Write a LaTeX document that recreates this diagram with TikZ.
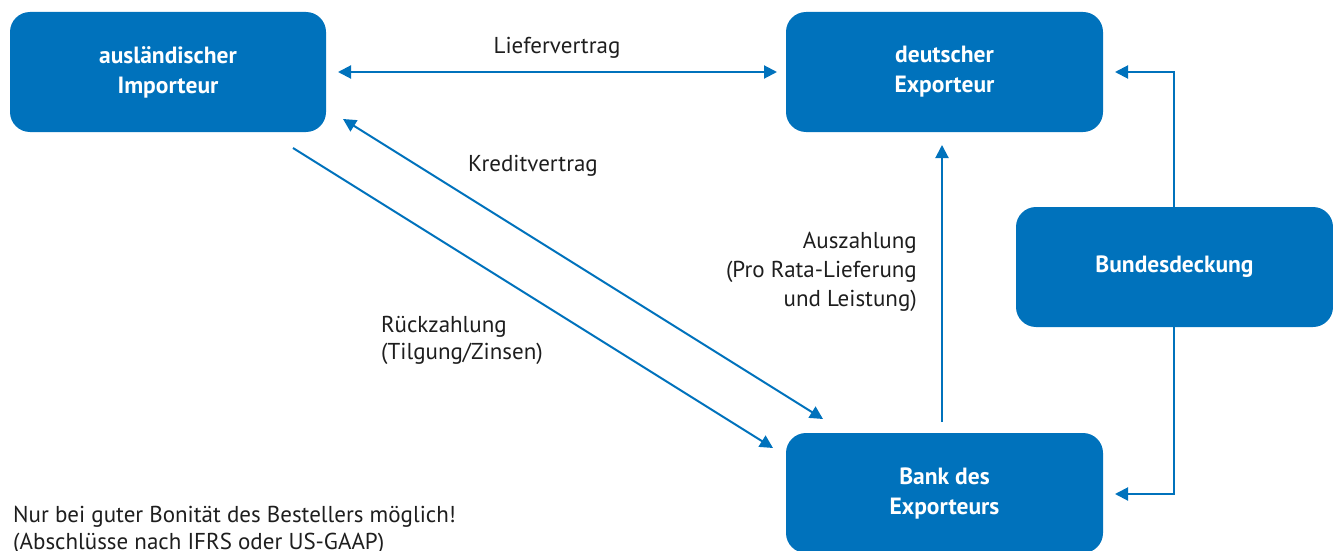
\documentclass[tikz,border=0pt]{standalone}
\usepackage{fontspec}
\setmainfont{PT Sans}
\usetikzlibrary{arrows.meta}
\definecolor{bblue}{RGB}{0,114,188}
\definecolor{txt}{RGB}{30,30,30}
\begin{document}
\begin{tikzpicture}[x=1pt,y=-1pt,
  party/.style={fill=bblue, rounded corners=20pt, text=white,
    font=\fontsize{23.5}{30}\selectfont\bfseries, align=center},
  flow/.style={draw=bblue, line width=2pt, -{Triangle[length=13pt,width=13pt]}},
  flow2/.style={draw=bblue, line width=2pt, {Triangle[length=13pt,width=13pt]}-{Triangle[length=13pt,width=13pt]}},
  lbl/.style={text=txt, font=\fontsize{23}{29}\selectfont, inner sep=0pt},
  lbltight/.style={lbl, font=\fontsize{23}{27}\selectfont}]
\useasboundingbox (0,0) rectangle (1333,551);
% parties
\path[party] (10,12) rectangle (326,132);
\node[party] (imp) at (168,72) {ausländischer\\Importeur};
\path[party] (786,12) rectangle (1103,132);
\node[party] (exp) at (944.5,72) {deutscher\\Exporteur};
\path[party] (1016,207) rectangle (1333,327);
\node[party] (bund) at (1174.5,267) {Bundesdeckung};
\path[party] (786,433) rectangle (1103,553);
\node[party] (bank) at (944.5,493.5) {Bank des\\Exporteurs};
% anchor points of the connectors
\coordinate (impR) at (338,72);
\coordinate (expL) at (777,72);
\coordinate (impK) at (343,119);
\coordinate (bankK) at (823,419);
\coordinate (impR2) at (293,148);
\coordinate (bankR) at (773,448);
\coordinate (bankT) at (942,422);
\coordinate (expB) at (942,145);
\coordinate (bundT) at (1174,207);
\coordinate (bundB) at (1174,327);
\coordinate (expR) at (1115,72);
\coordinate (bankRt) at (1115,494);
% connectors
\draw[flow2] (impR) -- (expL);
\draw[flow2] (impK) -- (bankK);
\draw[flow] (impR2) -- (bankR);
\draw[flow] (bankT) -- (expB);
\draw[flow] (bundT) |- (expR);
\draw[flow] (bundB) |- (bankRt);
% labels
\node[lbl, anchor=base] (l1) at (557,54) {Liefervertrag};
\node[lbl, anchor=base west] (l2) at (468,171) {Kreditvertrag};
\node[lbltight, anchor=north west, align=left] (l3) at (381,316) {Rückzahlung\\(Tilgung/Zinsen)};
\node[lbl, anchor=north east, align=right] (l4) at (917,232) {Auszahlung\\(Pro Rata-Lieferung\\und Leistung)};
\node[lbltight, anchor=north west, align=left] (note) at (13,506) {Nur bei guter Bonität des Bestellers möglich!\\(Abschlüsse nach IFRS oder US-GAAP)};
\end{tikzpicture}
\end{document}
